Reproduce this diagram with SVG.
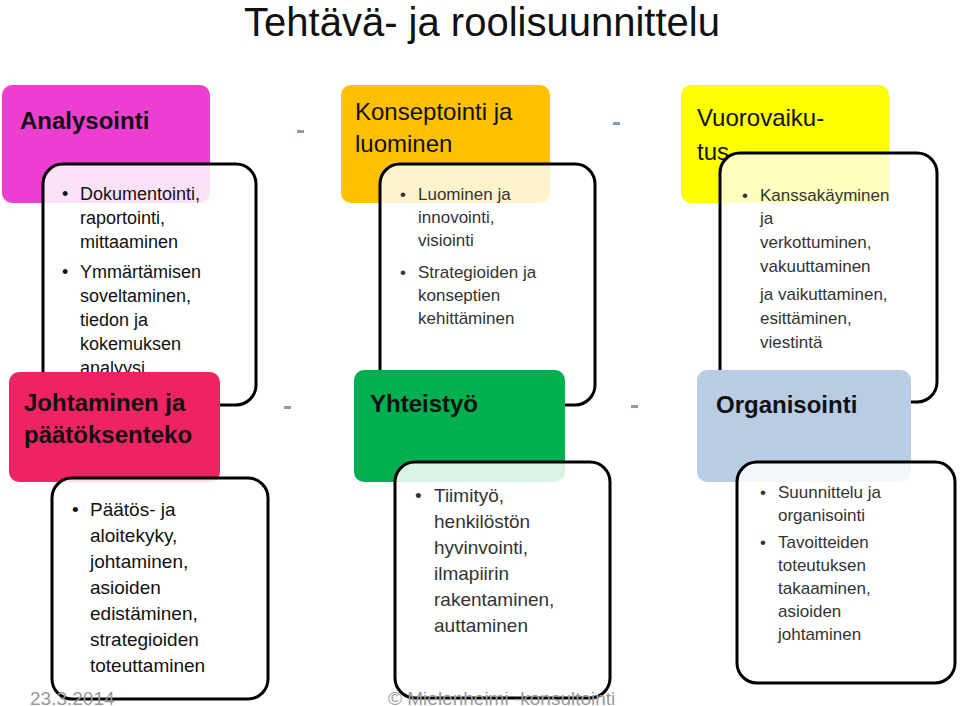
<svg xmlns="http://www.w3.org/2000/svg" width="960" height="706" viewBox="0 0 960 706">
<style>
text{font-family:"Liberation Sans",Arial,sans-serif}
.h{font-weight:bold;font-size:24px;fill:#111}
.n{font-size:24px;fill:#111}
.b{font-size:18px;fill:#111}
.g{fill:#333}
.w{fill:#fff;fill-opacity:0.85;stroke:#000;stroke-width:3}
.d{fill:#8a9ab8}
.f{font-size:19px;fill:#999}
</style>
<rect width="960" height="706" fill="#fff"/>
<text x="482" y="36" text-anchor="middle" style="font-size:40px;fill:#111">Tehtävä- ja roolisuunnittelu</text>
<g id="connectors">
<rect class="d" x="297" y="130" width="7" height="3"/>
<rect class="d" x="613" y="122" width="7" height="3"/>
<rect class="d" x="284" y="406" width="7" height="3"/>
<rect class="d" x="631" y="405" width="7" height="3"/>
</g>
<g id="analysointi">
<rect x="2" y="85" width="208" height="118" rx="10" fill="#EC3FD1"/>
<text class="h" x="20" y="129">Analysointi</text>
</g>
<g id="analysointi-list">
<rect class="w" x="43" y="164" width="213" height="241" rx="20"/>
<text class="b"><tspan x="62" y="200">•</tspan><tspan x="80" y="200">Dokumentointi,</tspan><tspan x="80" y="224">raportointi,</tspan><tspan x="80" y="248">mittaaminen</tspan><tspan x="62" y="278">•</tspan><tspan x="80" y="278">Ymmärtämisen</tspan><tspan x="80" y="302">soveltaminen,</tspan><tspan x="80" y="326">tiedon ja</tspan><tspan x="80" y="350">kokemuksen</tspan><tspan x="80" y="374">analyysi</tspan></text>
</g>
<g id="johtaminen">
<rect x="9" y="372" width="211" height="110" rx="10" fill="#EE2362"/>
<text class="h" x="24" y="411">Johtaminen ja</text>
<text class="h" x="24" y="443">päätöksenteko</text>
</g>
<g id="johtaminen-list">
<rect class="w" x="52" y="478" width="216" height="221" rx="20"/>
<text class="b" style="font-size:19px"><tspan x="72" y="516">•</tspan><tspan x="90" y="516">Päätös- ja</tspan><tspan x="90" y="542">aloitekyky,</tspan><tspan x="90" y="568">johtaminen,</tspan><tspan x="90" y="594">asioiden</tspan><tspan x="90" y="620">edistäminen,</tspan><tspan x="90" y="646">strategioiden</tspan><tspan x="90" y="672">toteuttaminen</tspan></text>
</g>
<g id="konseptointi">
<rect x="341" y="85" width="209" height="118" rx="10" fill="#FFC000"/>
<text class="n" x="355" y="120">Konseptointi ja</text>
<text class="n" x="355" y="152">luominen</text>
</g>
<g id="konseptointi-list">
<rect class="w" x="380" y="164" width="215" height="241" rx="20" style="fill-opacity:0.8"/>
<text class="b g" style="font-size:17px"><tspan x="400" y="200">•</tspan><tspan x="418" y="200">Luominen ja</tspan><tspan x="418" y="223">innovointi,</tspan><tspan x="418" y="246">visiointi</tspan><tspan x="400" y="278">•</tspan><tspan x="418" y="278">Strategioiden ja</tspan><tspan x="418" y="301">konseptien</tspan><tspan x="418" y="324">kehittäminen</tspan></text>
</g>
<g id="yhteistyo">
<rect x="354" y="370" width="211" height="112" rx="10" fill="#00B050"/>
<text class="h" x="370" y="412">Yhteistyö</text>
</g>
<g id="yhteistyo-list">
<rect class="w" x="395" y="462" width="215" height="236" rx="20"/>
<text class="b g" style="font-size:19px"><tspan x="415" y="502">•</tspan><tspan x="434" y="502">Tiimityö,</tspan><tspan x="434" y="528">henkilöstön</tspan><tspan x="434" y="554">hyvinvointi,</tspan><tspan x="434" y="580">ilmapiirin</tspan><tspan x="434" y="606">rakentaminen,</tspan><tspan x="434" y="632">auttaminen</tspan></text>
</g>
<g id="vuorovaikutus">
<rect x="681" y="85" width="208" height="118" rx="10" fill="#FFFF00"/>
<text class="n" x="697" y="126">Vuorovaiku-</text>
<text class="n" x="697" y="160">tus</text>
</g>
<g id="vuorovaikutus-list">
<rect class="w" x="720" y="153" width="217" height="249" rx="20" style="fill-opacity:0.75"/>
<text class="b g" style="font-size:17px"><tspan x="742" y="201">•</tspan><tspan x="760" y="201">Kanssakäyminen</tspan><tspan x="760" y="224">ja</tspan><tspan x="760" y="248">verkottuminen,</tspan><tspan x="760" y="272">vakuuttaminen</tspan><tspan x="760" y="300">ja vaikuttaminen,</tspan><tspan x="760" y="324">esittäminen,</tspan><tspan x="760" y="348">viestintä</tspan></text>
</g>
<g id="organisointi">
<rect x="697" y="370" width="214" height="112" rx="10" fill="#B8CCE4"/>
<text class="h" x="716" y="413">Organisointi</text>
</g>
<g id="organisointi-list">
<rect class="w" x="737" y="462" width="218" height="221" rx="20"/>
<text class="b g" style="font-size:17px"><tspan x="760" y="498">•</tspan><tspan x="778" y="498">Suunnittelu ja</tspan><tspan x="778" y="521">organisointi</tspan><tspan x="760" y="548">•</tspan><tspan x="778" y="548">Tavoitteiden</tspan><tspan x="778" y="571">toteutuksen</tspan><tspan x="778" y="594">takaaminen,</tspan><tspan x="778" y="617">asioiden</tspan><tspan x="778" y="640">johtaminen</tspan></text>
</g>
<text class="f" x="30" y="705">23.3.2014</text>
<text class="f" x="388" y="705">© Mielenheimi -konsultointi</text>
</svg>
